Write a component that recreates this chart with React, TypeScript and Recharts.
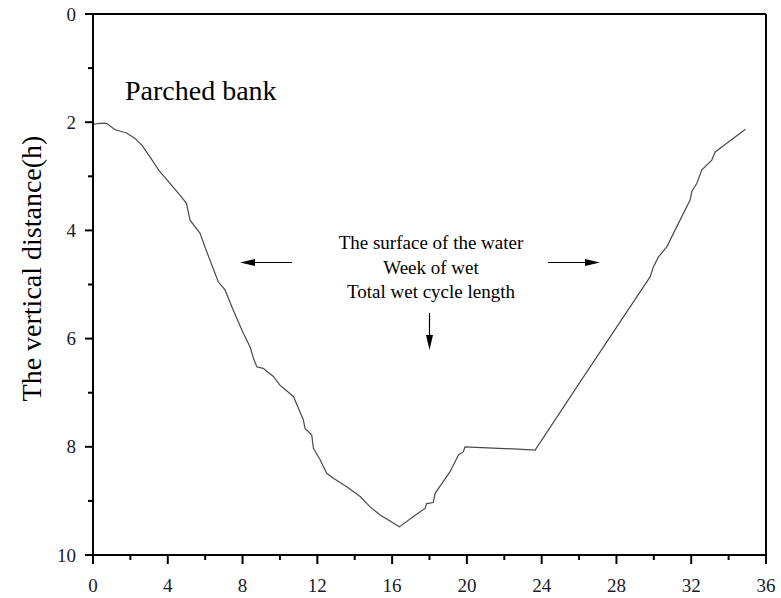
import React from "react";
import { LineChart, Line, XAxis, YAxis, ReferenceLine, Customized } from "recharts";

const xValues = [0, 0.37, 0.73, 1.18, 1.8, 2.25, 2.6, 3.05, 3.5, 4.12, 4.65, 5.0, 5.19, 5.72, 6.08, 6.7, 7.06, 7.5, 8.04, 8.4, 8.58, 8.76, 9.1, 9.65, 10.0, 10.72, 11.25, 11.34, 11.7, 11.79, 12.15, 12.5, 12.86, 13.57, 14.29, 14.82, 15.36, 16.39, 17.14, 17.76, 17.85, 18.2, 18.3, 19.1, 19.55, 19.81, 19.9, 22.49, 23.65, 26.06, 29.8, 29.98, 30.25, 30.7, 31.4, 31.94, 32.03, 32.3, 32.57, 33.1, 33.28, 33.9, 34.9];
const depthValues = [2.04, 2.02, 2.02, 2.14, 2.2, 2.3, 2.42, 2.64, 2.88, 3.13, 3.35, 3.5, 3.81, 4.05, 4.39, 4.95, 5.1, 5.47, 5.9, 6.15, 6.36, 6.52, 6.55, 6.7, 6.86, 7.07, 7.5, 7.66, 7.78, 8.03, 8.24, 8.49, 8.58, 8.74, 8.92, 9.11, 9.26, 9.48, 9.29, 9.14, 9.05, 9.03, 8.86, 8.46, 8.15, 8.09, 8.0, 8.04, 8.06, 6.8, 4.86, 4.67, 4.49, 4.3, 3.81, 3.44, 3.28, 3.13, 2.88, 2.7, 2.55, 2.39, 2.13];
const xTicks = [0, 2, 4, 6, 8, 10, 12, 14, 16, 18, 20, 22, 24, 26, 28, 30, 32, 34, 36];
const yTicks = [0, 1, 2, 3, 4, 5, 6, 7, 8, 9, 10];
const titleText = "Parched bank";
const yLabel = "The vertical distance(h)";
const noteLines = ["The surface of the water", "Week of wet ", "Total wet cycle length"];

const data = xValues.map((x, i) => ({ x, y: depthValues[i] }));
const FONT = "Liberation Serif";
const fs = (size: number) => ({ fontFamily: FONT, fontSize: size });

const XTick = (props: any) => {
  const { x, y, payload } = props;
  const major = payload.value % 4 === 0;
  return (
    <g>
      <line x1={x} y1={y} x2={x} y2={y + (major ? 9 : 5)} stroke="#000" strokeWidth={2} />
      {major && (
        <text x={x} y={y + 37} textAnchor="middle" style={fs(19)} fill="#1a1a2a">
          {payload.value}
        </text>
      )}
    </g>
  );
};

const YTick = (props: any) => {
  const { x, y, payload } = props;
  const major = payload.value % 2 === 0;
  return (
    <g>
      <line x1={x} y1={y} x2={x - (major ? 8 : 5)} y2={y} stroke="#000" strokeWidth={2} />
      {major && (
        <text x={x - 17} y={y + 6.5} textAnchor="end" style={fs(19)} fill="#1a1a2a">
          {payload.value}
        </text>
      )}
    </g>
  );
};

const Overlay = () => (
  <g fill="#000">
    <text x={125} y={100} style={fs(28)}>{titleText}</text>
    <text transform="rotate(-90, 41, 268.5)" x={41} y={268.5} textAnchor="middle" style={fs(28)}>{yLabel}</text>
    {noteLines.map((t, i) => (
      <text key={i} x={431} y={249 + i * 24.5} textAnchor="middle" style={fs(19)}>{t}</text>
    ))}
    <line x1={254} y1={262.5} x2={292} y2={262.5} stroke="#000" strokeWidth={1.2} />
    <polygon points="240,262.5 255,259 255,266" fill="#000" />
    <line x1={548} y1={262.5} x2={586} y2={262.5} stroke="#000" strokeWidth={1.2} />
    <polygon points="600,262.5 585,259 585,266" fill="#000" />
    <line x1={429.5} y1={313} x2={429.5} y2={336} stroke="#000" strokeWidth={1.2} />
    <polygon points="429.5,350 426,335 433,335" fill="#000" />
  </g>
);

export default function App() {
  return (
    <div style={{ position: "absolute", left: 0, top: 0, background: "#fff", fontFamily: FONT }}>
      <LineChart width={781} height={598} data={data} margin={{ top: 14, right: 15, bottom: 0, left: 0 }}>
        <XAxis
          dataKey="x"
          type="number"
          domain={[0, 36]}
          ticks={xTicks}
          interval={0}
          height={43}
          tickSize={0}
          tickMargin={0}
          tickLine={false}
          axisLine={{ stroke: "#000", strokeWidth: 2 }}
          tick={<XTick />}
        />
        <YAxis
          type="number"
          domain={[0, 10]}
          reversed
          ticks={yTicks}
          interval={0}
          width={93}
          tickSize={0}
          tickMargin={0}
          tickLine={false}
          axisLine={{ stroke: "#000", strokeWidth: 2 }}
          tick={<YTick />}
        />
        <ReferenceLine y={0} stroke="#000" strokeWidth={2} />
        <ReferenceLine x={36} stroke="#000" strokeWidth={2} />
        <Line dataKey="y" type="linear" stroke="#4a4a4a" strokeWidth={1.2} dot={false} isAnimationActive={false} />
        <Customized component={<Overlay />} />
      </LineChart>
    </div>
  );
}
